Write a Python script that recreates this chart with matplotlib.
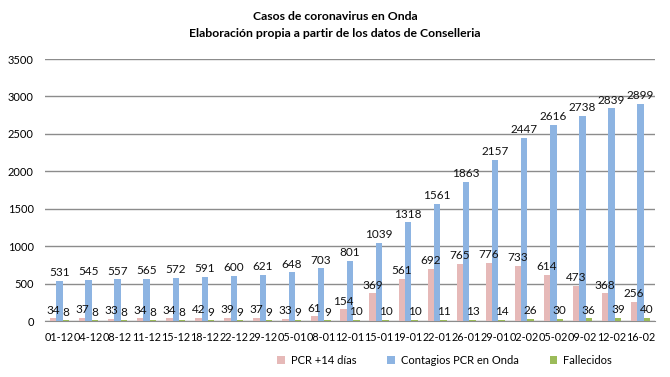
import matplotlib.pyplot as plt
import numpy as np

fechas = ["01-12", "04-12", "08-12", "11-12", "15-12", "18-12", "22-12", "29-12",
          "05-01", "08-01", "12-01", "15-01", "19-01", "22-01", "26-01", "29-01",
          "02-02", "05-02", "09-02", "12-02", "16-02"]
pcr14 = [34, 37, 33, 34, 34, 42, 39, 37, 33, 61, 154, 369, 561, 692, 765, 776,
         733, 614, 473, 368, 256]
contagios = [531, 545, 557, 565, 572, 591, 600, 621, 648, 703, 801, 1039, 1318,
             1561, 1863, 2157, 2447, 2616, 2738, 2839, 2899]
fallecidos = [8, 8, 8, 8, 8, 9, 9, 9, 9, 9, 10, 10, 10, 11, 13, 14, 26, 30, 36,
              39, 40]

plt.rcParams["font.family"] = ["Lato", "DejaVu Sans"]

fig = plt.figure(figsize=(6.7, 3.77), dpi=100)
ax = fig.add_axes([45 / 670, 1 - 321 / 377, 610 / 670, 262 / 377])

x = np.arange(len(fechas))
w = 0.22
series = [
    (pcr14, "PCR +14 días", "#E6B9B8", -w),
    (contagios, "Contagios PCR en Onda", "#8DB4E2", 0),
    (fallecidos, "Fallecidos", "#9BBB59", w),
]
for vals, name, col, off in series:
    bars = ax.bar(x + off, vals, width=w, color=col, label=name, zorder=3)
    txts = ax.bar_label(bars, padding=2, fontsize=8.5, color="#111111")
    for t in txts:
        t.set_zorder(6)

ax.set_xlim(-0.5, len(fechas) - 0.5)
ax.set_ylim(0, 3500)
ax.set_yticks(range(0, 3501, 500))
ax.set_xticks(x)
ax.set_xticklabels(fechas, fontsize=7.8)
ax.tick_params(axis="y", labelsize=8, length=0, pad=8)
ax.tick_params(axis="x", length=0, pad=8)
ax.grid(axis="y", color="#8c8c8c", linewidth=1, zorder=0)
for s in ["top", "right", "left"]:
    ax.spines[s].set_visible(False)
ax.spines["bottom"].set_color("#8c8c8c")

fig.suptitle("Casos de coronavirus en Onda\nElaboración propia a partir de los datos de Conselleria",
             fontsize=8.8, fontweight="bold", y=0.972, linespacing=1.7)

ax.legend(loc="upper center", bbox_to_anchor=(0.655, -0.09), ncol=3, frameon=False,
          fontsize=8, handlelength=0.7, handleheight=0.7, columnspacing=2.8,
          handletextpad=0.5)

fig.savefig("out.png", dpi=100)
